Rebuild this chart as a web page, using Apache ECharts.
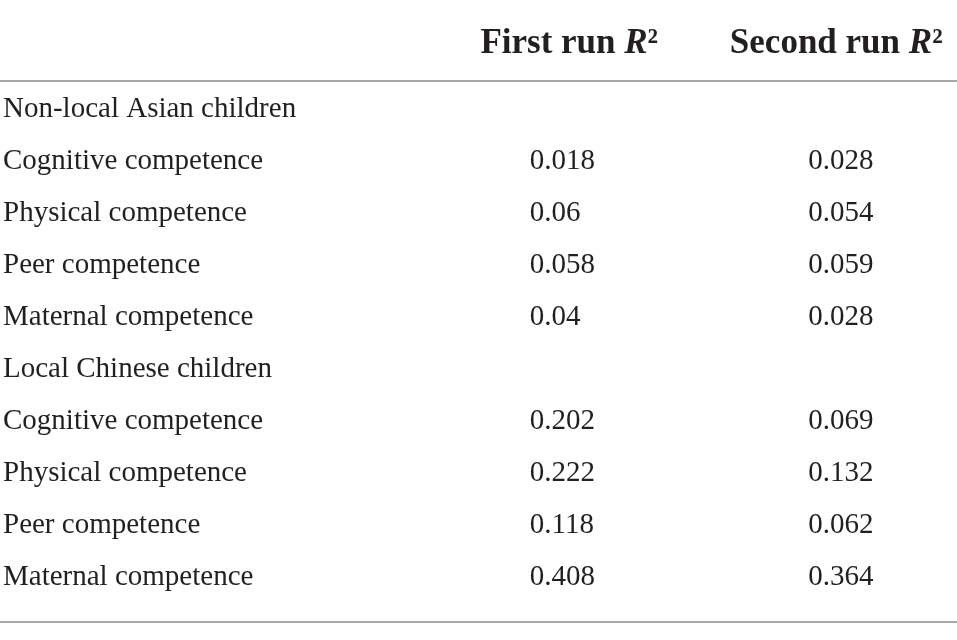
<!DOCTYPE html>
<html>
<head>
<meta charset="utf-8">
<script src="https://cdn.jsdelivr.net/npm/echarts@6/dist/echarts.min.js"></script>
<style>
html,body{margin:0;padding:0;background:#fff;}
#main{width:957px;height:640px;}
</style>
</head>
<body>
<div id="main"></div>
<script>
// ---- data ----
const rowLabels = [
  'Non-local Asian children',
  'Cognitive competence',
  'Physical competence',
  'Peer competence',
  'Maternal competence',
  'Local Chinese children',
  'Cognitive competence',
  'Physical competence',
  'Peer competence',
  'Maternal competence'
];
const columnLabels = ['First run', 'Second run'];
const firstRun  = [null, 0.018, 0.06, 0.058, 0.04, null, 0.202, 0.222, 0.118, 0.408];
const secondRun = [null, 0.028, 0.054, 0.059, 0.028, null, 0.069, 0.132, 0.062, 0.364];

const FONT = 'Liberation Serif';
const TXT = '#231f20';
const RULE = '#a8a8a8';

function toPoints(values, col) {
  const out = [];
  values.forEach((v, i) => { if (v !== null) out.push([col, i, v]); });
  return out;
}

const chart = echarts.init(document.getElementById('main'), null, {renderer: 'canvas'});

function valueSeries(name, values, col) {
  return {
    name: name,
    type: 'scatter',
    xAxisIndex: 2,
    yAxisIndex: 1,
    silent: true,
    symbol: 'circle',
    symbolSize: 0,
    itemStyle: {color: TXT},
    data: toPoints(values, col),
    label: {
      show: true,
      position: 'right',
      distance: 0,
      align: 'left',
      verticalAlign: 'middle',
      color: TXT,
      opacity: 1,
      textBorderWidth: 0,
      fontFamily: FONT,
      fontSize: 29,
      formatter: p => String(p.value[2])
    },
    emphasis: {disabled: true}
  };
}

const headerRich = {};
[0, 1].forEach(i => {
  const pad = i === 0 ? 79 : 56;
  headerRich['p' + i] = {width: pad, height: 1};
});
const hs = {fontFamily: FONT, fontSize: 35, fontWeight: 'bold', color: TXT, lineHeight: 42};
headerRich.a = Object.assign({}, hs);
headerRich.b = Object.assign({}, hs, {fontStyle: 'italic'});
headerRich.c = Object.assign({}, hs);

chart.setOption({
  animation: false,
  backgroundColor: '#ffffff',
  grid: [
    {left: 0, right: 0, top: 81, bottom: 18},
    {left: 389.5, right: 9.5, top: 83, bottom: 37}
  ],
  xAxis: [
    {gridIndex: 0, type: 'value', position: 'top', min: 0, max: 1,
     axisLine: {show: true, onZero: false, lineStyle: {color: RULE, width: 2}},
     axisTick: {show: false}, axisLabel: {show: false}, splitLine: {show: false}},
    {gridIndex: 0, type: 'value', position: 'bottom', min: 0, max: 1,
     axisLine: {show: true, onZero: false, lineStyle: {color: RULE, width: 2}},
     axisTick: {show: false}, axisLabel: {show: false}, splitLine: {show: false}},
    {gridIndex: 1, type: 'category', position: 'top', data: columnLabels,
     axisLine: {show: false}, axisTick: {show: false}, splitLine: {show: false},
     axisLabel: {
       show: true, interval: 0, margin: 39, align: 'center', verticalAlign: 'middle',
       formatter: (v, i) => '{p' + i + '|}{a|' + v + ' }{b|R}{c|²}',
       rich: headerRich
     }}
  ],
  yAxis: [
    {gridIndex: 0, type: 'value', min: 0, max: 1, show: false},
    {gridIndex: 1, type: 'category', inverse: true, data: rowLabels,
     axisLine: {show: false}, axisTick: {show: false}, splitLine: {show: false},
     axisLabel: {show: true, interval: 0, align: 'left', margin: 387.5,
       color: TXT, fontFamily: FONT, fontSize: 29}}
  ],
  series: [
    valueSeries('First run R²', firstRun, 0),
    valueSeries('Second run R²', secondRun, 1)
  ]
});
</script>
</body>
</html>
